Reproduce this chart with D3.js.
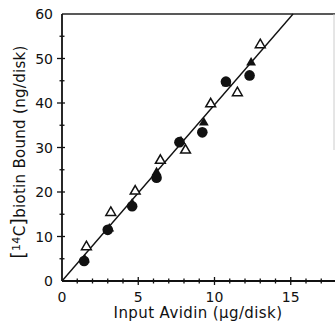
<!DOCTYPE html>
<html lang="en">
<head>
<meta charset="utf-8">
<script src="https://d3js.org/d3.v7.min.js"></script>
<style>
	body { margin: 0; background: #fff; }
	text { font-family: "DejaVu Sans", sans-serif; fill: #111; }
</style>
</head>
<body>
<div id="chart"></div>
<script>
// input avidin (ug/disk) and bound biotin (ng/disk)
let circleX = [1.45, 3.0, 4.6, 6.2, 7.7, 9.2, 10.75, 12.3];
let circleY = [4.5, 11.5, 16.8, 23.2, 31.2, 33.4, 44.8, 46.2];
let filledTriX = [1.5, 3.1, 4.6, 6.2, 7.8, 9.3, 10.8, 12.4];
let filledTriY = [5.0, 12.0, 17.6, 24.6, 31.6, 35.8, 44.6, 49.3];
let openTriX = [1.6, 3.2, 4.8, 6.45, 8.1, 9.75, 11.5, 13.0];
let openTriY = [7.9, 15.6, 20.4, 27.3, 29.6, 40.0, 42.5, 53.3];
let fitX = [0, 15.15];
let fitY = [0, 60];
let xTicks = [0, 5, 10, 15];
let yTicks = [0, 10, 20, 30, 40, 50, 60];

let width = 335, height = 325;
let x0 = 62, x1 = 335, yTop = 14, yBot = 281;

let svg = d3.select("#chart").append("svg")
	.attr("width", width)
	.attr("height", height);

let x = d3.scaleLinear().domain([0, 15]).range([x0, x0 + 15 * 15.25]);
let y = d3.scaleLinear().domain([0, 60]).range([yBot, yTop]);

// frame: top border and faint right edge
svg.append("line").attr("x1", x0).attr("x2", x1).attr("y1", yTop).attr("y2", yTop)
	.attr("stroke", "#222").attr("stroke-width", 1.5);
svg.append("line").attr("x1", x1 - 1).attr("x2", x1 - 1).attr("y1", yTop).attr("y2", 150)
	.attr("stroke", "#ccc").attr("stroke-width", 1);

// x axis
let xAxis = svg.append("g").attr("transform", `translate(0,${yBot})`);
xAxis.append("line").attr("x1", x0).attr("x2", x1).attr("stroke", "#111").attr("stroke-width", 1.8);
xAxis.selectAll("line.minor").data(d3.range(1, 18)).enter().append("line")
	.attr("class", "minor")
	.attr("x1", d => x(d)).attr("x2", d => x(d))
	.attr("y1", d => d % 5 == 0 ? -4 : -2.5).attr("y2", d => d % 5 == 0 ? 4 : 2.5)
	.attr("stroke", "#111").attr("stroke-width", 1.3);
xAxis.selectAll("text").data(xTicks).enter().append("text")
	.attr("x", d => x(d)).attr("y", 21)
	.attr("text-anchor", "middle")
	.style("font-size", "14px")
	.text(d => d);

// y axis
let yAxis = svg.append("g").attr("transform", `translate(${x0},0)`);
yAxis.append("line").attr("y1", yTop).attr("y2", yBot).attr("stroke", "#111").attr("stroke-width", 1.8);
yAxis.selectAll("line.minor").data(d3.range(5, 60, 5)).enter().append("line")
	.attr("class", "minor")
	.attr("y1", d => y(d)).attr("y2", d => y(d))
	.attr("x1", d => d % 10 == 0 ? -5 : -2.5).attr("x2", d => d % 10 == 0 ? 3 : 2.5)
	.attr("stroke", "#111").attr("stroke-width", 1.3);
yAxis.selectAll("text").data(yTicks).enter().append("text")
	.attr("x", -9).attr("y", d => y(d) + 5)
	.attr("text-anchor", "end")
	.style("font-size", "14px")
	.text(d => d);

// axis titles
svg.append("text")
	.attr("x", 198).attr("y", 318)
	.attr("text-anchor", "middle")
	.style("font-size", "15px")
	.style("letter-spacing", "0.4px")
	.text("Input Avidin (\u03bcg/disk)");

let yTitle = svg.append("text")
	.attr("transform", "translate(25,152) rotate(-90)")
	.attr("text-anchor", "middle")
	.style("font-size", "15px")
	.style("letter-spacing", "0.3px");
yTitle.append("tspan").style("font-size", "19px").text("[");
yTitle.append("tspan").style("font-size", "11px").attr("dy", -5).text("14");
yTitle.append("tspan").attr("dy", 5).text("C");
yTitle.append("tspan").style("font-size", "19px").text("]");
yTitle.append("tspan").text("biotin Bound (ng/disk)");

// fitted line
svg.append("path")
	.datum(d3.zip(fitX, fitY))
	.attr("fill", "none")
	.attr("stroke", "#111")
	.attr("stroke-width", 1.4)
	.attr("d", d3.line().x(d => x(d[0])).y(d => y(d[1])));

let tri = d3.symbol().type(d3.symbolTriangle).size(42);

svg.selectAll("path.otri").data(d3.zip(openTriX, openTriY)).enter().append("path")
	.attr("class", "otri")
	.attr("transform", d => `translate(${x(d[0])},${y(d[1]) + 1})`)
	.attr("d", tri)
	.attr("fill", "#fff").attr("stroke", "#111").attr("stroke-width", 1.5);

svg.selectAll("path.ftri").data(d3.zip(filledTriX, filledTriY)).enter().append("path")
	.attr("class", "ftri")
	.attr("transform", d => `translate(${x(d[0])},${y(d[1]) + 1})`)
	.attr("d", tri)
	.attr("fill", "#111");

svg.selectAll("circle.pt").data(d3.zip(circleX, circleY)).enter().append("circle")
	.attr("class", "pt")
	.attr("cx", d => x(d[0])).attr("cy", d => y(d[1]))
	.attr("r", 5.3)
	.attr("fill", "#111");
</script>
</body>
</html>
